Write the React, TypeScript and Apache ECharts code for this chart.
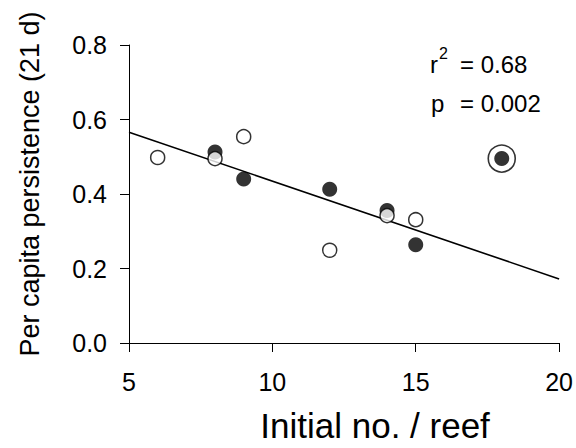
import React, { useEffect, useRef } from "react";
import * as echarts from "echarts";

const xTicks = [5, 10, 15, 20];
const yTicks = [0, 0.2, 0.4, 0.6, 0.8];
const filledPoints: [number, number][] = [
  [8, 0.513],
  [9, 0.44],
  [12, 0.413],
  [14, 0.356],
  [15, 0.264],
  [18, 0.495],
];
const openPoints: [number, number][] = [
  [6, 0.498],
  [8, 0.495],
  [9, 0.554],
  [12, 0.249],
  [14, 0.342],
  [15, 0.331],
];
const ringedPoints: [number, number][] = [[18, 0.495]];
const regressionLine: [number, number][] = [
  [5, 0.566],
  [20, 0.172],
];
const xTitle = "Initial no. / reef";
const yTitle = "Per capita persistence (21 d)";
const r2Text = "= 0.68";
const pText = "= 0.002";

const FONT = "'Liberation Sans', Arial, Helvetica, sans-serif";

export default function App() {
  const ref = useRef<HTMLDivElement>(null);
  useEffect(() => {
    if (!ref.current) return;
    const chart = echarts.init(ref.current, null, { renderer: "svg" });
    const axisCommon = {
      axisLine: { show: true, lineStyle: { color: "#000", width: 1 } },
      axisTick: { show: true, inside: false, length: 9, lineStyle: { color: "#000", width: 1 } },
      splitLine: { show: false },
    };
    chart.setOption({
      animation: false,
      backgroundColor: "#fff",
      textStyle: { fontFamily: FONT },
      grid: { left: 129, right: 16, top: 45, bottom: 103, containLabel: false },
      xAxis: {
        type: "value",
        min: xTicks[0],
        max: xTicks[xTicks.length - 1],
        interval: 5,
        ...axisCommon,
        axisLabel: { fontSize: 25, color: "#000", fontFamily: FONT, margin: 26 },
        name: xTitle,
        nameLocation: "middle",
        nameGap: 65,
        nameTextStyle: {
          fontSize: 35,
          color: "#000",
          fontFamily: FONT,
          padding: [0, 0, 0, 62],
        },
      },
      yAxis: {
        type: "value",
        min: yTicks[0],
        max: yTicks[yTicks.length - 1],
        interval: 0.2,
        ...axisCommon,
        axisLabel: {
          fontSize: 25,
          color: "#000",
          fontFamily: FONT,
          margin: 22,
          formatter: (v: number) => v.toFixed(1),
        },
        name: yTitle,
        nameLocation: "middle",
        nameGap: 86,
        nameTextStyle: {
          fontSize: 27,
          color: "#000",
          fontFamily: FONT,
          padding: [0, 0, 0, 20],
        },
      },
      series: [
        {
          type: "line",
          data: regressionLine,
          symbol: "none",
          lineStyle: { color: "#000", width: 1.6 },
          z: 1,
          silent: true,
        },
        {
          type: "scatter",
          data: ringedPoints,
          symbol: "circle",
          symbolSize: 27,
          itemStyle: { color: "rgba(0,0,0,0)", borderColor: "#000", borderWidth: 1.6 },
          z: 2,
        },
        {
          type: "scatter",
          data: filledPoints,
          symbol: "circle",
          symbolSize: 15,
          itemStyle: { color: "#000" },
          z: 3,
        },
        {
          type: "scatter",
          data: openPoints,
          symbol: "circle",
          symbolSize: 14,
          itemStyle: { color: "#fff", borderColor: "#000", borderWidth: 1.5 },
          z: 4,
        },
      ],
      graphic: [
        {
          type: "text",
          left: 430,
          top: 52,
          style: { text: "r", fontSize: 24, fill: "#000", fontFamily: FONT },
        },
        {
          type: "text",
          left: 439,
          top: 45,
          style: { text: "2", fontSize: 16, fill: "#000", fontFamily: FONT },
        },
        {
          type: "text",
          left: 460,
          top: 52,
          style: { text: r2Text, fontSize: 24, fill: "#000", fontFamily: FONT },
        },
        {
          type: "text",
          left: 431,
          top: 91,
          style: { text: "p", fontSize: 24, fill: "#000", fontFamily: FONT },
        },
        {
          type: "text",
          left: 460,
          top: 91,
          style: { text: pText, fontSize: 24, fill: "#000", fontFamily: FONT },
        },
      ],
    });
    return () => chart.dispose();
  }, []);
  return (
    <div
      ref={ref}
      style={{ position: "fixed", left: 0, top: 0, width: 576, height: 448, background: "#fff" }}
    />
  );
}
